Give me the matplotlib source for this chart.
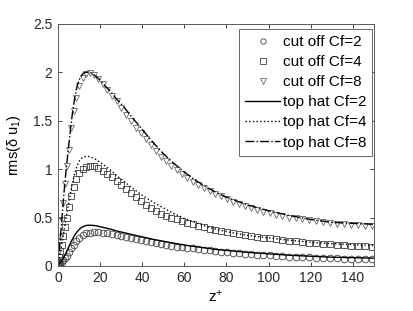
import matplotlib
matplotlib.use("Agg")
import matplotlib.pyplot as plt

plt.rcParams['font.family'] = ['Liberation Sans', 'DejaVu Sans']
plt.rcParams['mathtext.fontset'] = 'custom'
plt.rcParams['mathtext.rm'] = 'Liberation Sans'
plt.rcParams['mathtext.it'] = 'Liberation Sans'

# marker positions (wall-normal grid points)
z_pts = [0, 0.3, 0.7, 1.2, 1.8, 2.5, 3.3, 4.2, 5.2, 6.3, 7.5, 8.8, 10.2, 11.7, 13.3,
         15.0, 17.0, 19.1, 21.2, 23.4, 25.6, 27.8, 30.0, 32.3, 34.6, 36.9, 39.2, 41.6,
         44.0, 46.4, 48.8, 51.3, 53.8, 56.3, 58.8, 61.4, 64.0, 66.6, 69.3, 72.0, 74.7,
         77.4, 80.2, 83.0, 85.8, 88.7, 91.6, 94.5, 97.5, 100.5, 103.5, 106.6, 109.7,
         112.8, 116.0, 119.2, 122.4, 125.7, 129.0, 132.3, 135.6, 139.0, 142.4, 145.8, 149.2]

cut2 = [0, 0.005, 0.015, 0.03, 0.045, 0.06, 0.08, 0.10, 0.14, 0.18, 0.22, 0.26, 0.29,
        0.315, 0.335, 0.345, 0.35, 0.35, 0.345, 0.34, 0.33, 0.32, 0.31, 0.30, 0.29, 0.28,
        0.27, 0.26, 0.25, 0.24, 0.23, 0.22, 0.21, 0.20, 0.195, 0.185, 0.18, 0.17, 0.165,
        0.16, 0.15, 0.145, 0.14, 0.135, 0.13, 0.125, 0.12, 0.115, 0.11, 0.11, 0.105, 0.10,
        0.097, 0.094, 0.091, 0.088, 0.085, 0.083, 0.08, 0.078, 0.076, 0.074, 0.072, 0.071, 0.07]

cut4 = [0, 0.04, 0.09, 0.15, 0.22, 0.31, 0.40, 0.50, 0.61, 0.72, 0.82, 0.90, 0.96, 1.00,
        1.02, 1.03, 1.03, 1.01, 0.98, 0.95, 0.92, 0.88, 0.84, 0.79, 0.75, 0.71, 0.67, 0.63,
        0.60, 0.57, 0.54, 0.52, 0.50, 0.48, 0.46, 0.44, 0.43, 0.41, 0.40, 0.38, 0.37, 0.36,
        0.35, 0.34, 0.33, 0.32, 0.31, 0.30, 0.29, 0.285, 0.28, 0.27, 0.26, 0.255, 0.25,
        0.24, 0.235, 0.23, 0.225, 0.22, 0.215, 0.21, 0.21, 0.205, 0.20]

cut8 = [0, 0.06, 0.15, 0.30, 0.47, 0.65, 0.85, 1.03, 1.20, 1.42, 1.60, 1.74, 1.86, 1.94,
        1.98, 1.99, 1.97, 1.93, 1.88, 1.82, 1.76, 1.70, 1.63, 1.56, 1.50, 1.43, 1.37, 1.31,
        1.25, 1.19, 1.13, 1.08, 1.03, 0.99, 0.95, 0.91, 0.87, 0.84, 0.80, 0.77, 0.74, 0.72,
        0.69, 0.66, 0.64, 0.62, 0.60, 0.58, 0.56, 0.55, 0.53, 0.52, 0.50, 0.49, 0.48, 0.47,
        0.46, 0.45, 0.44, 0.43, 0.43, 0.42, 0.42, 0.41, 0.41]

# top hat filter lines
z_line = [0, 1, 2, 3, 4, 5, 6, 7, 8, 9, 10, 11, 12, 13, 14, 15, 16, 18, 20, 22, 25, 28,
          31, 35, 40, 45, 50, 55, 60, 65, 70, 75, 80, 90, 100, 110, 120, 130, 140, 150]

top2 = [0, 0.03, 0.06, 0.10, 0.14, 0.19, 0.24, 0.28, 0.32, 0.35, 0.375, 0.395, 0.405,
        0.415, 0.42, 0.42, 0.42, 0.415, 0.405, 0.395, 0.38, 0.36, 0.345, 0.325, 0.30,
        0.275, 0.255, 0.235, 0.215, 0.20, 0.185, 0.17, 0.16, 0.14, 0.125, 0.11, 0.10,
        0.09, 0.085, 0.08]

top4 = [0, 0.12, 0.25, 0.38, 0.51, 0.64, 0.76, 0.87, 0.96, 1.03, 1.08, 1.11, 1.12, 1.13,
        1.13, 1.13, 1.12, 1.10, 1.07, 1.04, 0.99, 0.93, 0.88, 0.81, 0.73, 0.66, 0.60,
        0.54, 0.49, 0.45, 0.41, 0.38, 0.355, 0.315, 0.29, 0.265, 0.245, 0.23, 0.22, 0.21]

top8 = [0, 0.25, 0.52, 0.79, 1.02, 1.22, 1.42, 1.60, 1.74, 1.85, 1.92, 1.96, 1.99, 2.00,
        2.00, 2.00, 1.99, 1.96, 1.92, 1.87, 1.80, 1.72, 1.65, 1.54, 1.41, 1.28, 1.16,
        1.06, 0.97, 0.89, 0.82, 0.76, 0.71, 0.63, 0.57, 0.52, 0.48, 0.45, 0.44, 0.43]

x_ticks = [0, 20, 40, 60, 80, 100, 120, 140]
y_ticks = [0, 0.5, 1, 1.5, 2, 2.5]
y_tick_labels = ["0", "0.5", "1", "1.5", "2", "2.5"]

fig = plt.figure(figsize=(4.14, 3.11), dpi=100)
ax = fig.add_axes([0.140, 0.145, 0.763, 0.778])

mk = dict(linestyle='none', markerfacecolor='none', markersize=4.8,
          markeredgewidth=0.6)
ax.plot(z_pts, cut2, marker='o', markeredgecolor='0.25', label='cut off Cf=2', **mk)
ax.plot(z_pts, cut4, marker='s', markeredgecolor='0.25', label='cut off Cf=4', **mk)
ax.plot(z_pts, cut8, marker='v', markeredgecolor='0.4', label='cut off Cf=8', **mk)
ax.plot(z_line, top2, '-', color='black', lw=1.0, label='top hat Cf=2')
ax.plot(z_line, top4, ':', color='black', lw=1.0, label='top hat Cf=4')
ax.plot(z_line, top8, '-.', color='black', lw=1.0, label='top hat Cf=8')

ax.set_xlim(0, 150)
ax.set_ylim(0, 2.5)
ax.set_xticks(x_ticks)
ax.set_yticks(y_ticks)
ax.set_yticklabels(y_tick_labels)
ax.tick_params(direction='in', top=True, right=True, length=3, width=0.6,
               labelsize=10, colors='0.15', pad=4)
for s in ax.spines.values():
    s.set_linewidth(0.7)
    s.set_color('0.35')

ax.set_xlabel(r'z$^{+}$', fontsize=11, labelpad=2)
ax.set_ylabel(r'rms($\delta$ u$_1$)', fontsize=10.5, labelpad=7)

leg = ax.legend(loc='upper right', bbox_to_anchor=(0.899, 0.907),
                bbox_transform=fig.transFigure, borderaxespad=0,
                fontsize=11, frameon=True, fancybox=False,
                edgecolor='0.3', framealpha=1, handlelength=2.3, handletextpad=0.15,
                borderpad=0.4, labelspacing=0.4, markerscale=0.8)
leg.get_frame().set_linewidth(0.6)

fig.savefig('out.png', dpi=100)
